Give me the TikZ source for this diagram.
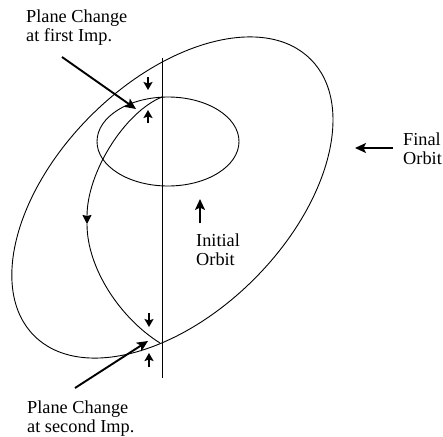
\documentclass[tikz,border=0pt]{standalone}
\usepackage{fontspec}
\setmainfont{Liberation Serif}
\usetikzlibrary{arrows.meta}

\begin{document}
\begin{tikzpicture}[
  x=1pt, y=-1pt,
  label/.style={align=left, anchor=north west, inner sep=0pt, font=\fontsize{18.3}{19}\selectfont},
  orbit/.style={line width=0.9pt, draw=black},
  bigarr/.style={-{Stealth[length=11pt,width=10pt,inset=2.5pt]}, line width=1.9pt},
  smallarr/.style={-{Stealth[length=8pt,width=9pt,inset=1.5pt]}, line width=1.7pt}
]
\useasboundingbox (0,0) rectangle (443,436);
% orbits
\draw[orbit] (168,141.5) ellipse [x radius=71, y radius=44.5];
\draw[orbit, rotate around={45:(172.4,197.5)}] (172.4,197.5) ellipse [x radius=195.5, y radius=115.5];
\draw[orbit] (162,58) -- (162,378);
\coordinate (imp1) at (162,97);
\coordinate (apse) at (87,224);
\coordinate (imp2) at (160,343);
\draw[orbit, -{Stealth[length=9pt,width=9pt,inset=1pt]}] (imp1) .. controls (125,112) and (87,172) .. (apse);
\draw[orbit] (apse) .. controls (87,268) and (120,318) .. (imp2);
% labels
\node[label] (first) at (26,9.5) {Plane Change\\at first Imp.};
\node[label] (second) at (27,400.5) {Plane Change\\at second Imp.};
\node[label] (final) at (403,132.5) {Final\\Orbit};
\node[label] (initial) at (196,233.5) {Initial\\Orbit};
% arrows
\coordinate (a1) at (62,57);
\coordinate (a2) at (136,109);
\coordinate (b1) at (75,388);
\coordinate (b2) at (148,341);
\coordinate (c1) at (393,148);
\coordinate (c2) at (355,148);
\coordinate (d1) at (200,223);
\coordinate (d2) at (200,199);
\draw[bigarr] (a1) -- (a2);
\draw[bigarr] (b1) -- (b2);
\draw[bigarr] (c1) -- (c2);
\draw[bigarr] (d1) -- (d2);
\coordinate (e1) at (148,77);
\coordinate (e2) at (148,90);
\coordinate (f1) at (148,123);
\coordinate (f2) at (148,110);
\coordinate (g1) at (149,313);
\coordinate (g2) at (149,327);
\coordinate (h1) at (149,367);
\coordinate (h2) at (149,353);
\draw[smallarr] (e1) -- (e2);
\draw[smallarr] (f1) -- (f2);
\draw[smallarr] (g1) -- (g2);
\draw[smallarr] (h1) -- (h2);
\end{tikzpicture}
\end{document}
